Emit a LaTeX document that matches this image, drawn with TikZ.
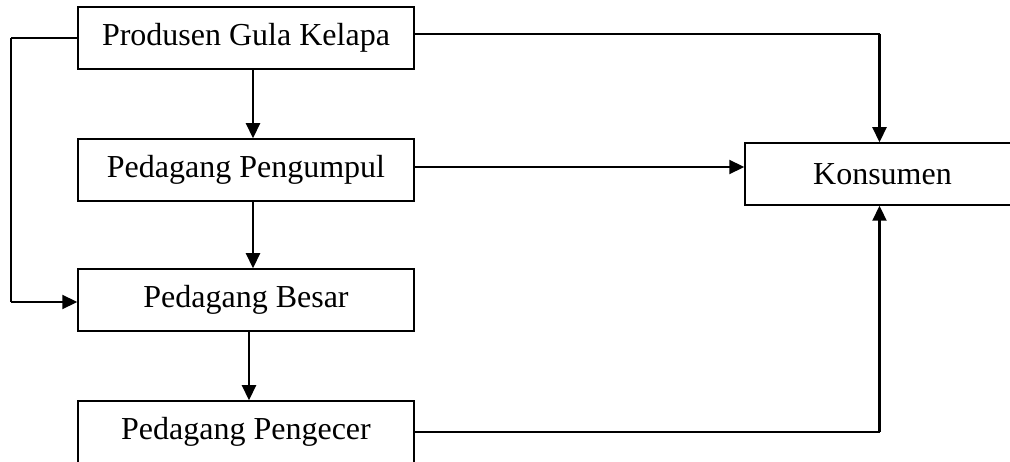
\documentclass[tikz,border=0pt]{standalone}
\usepackage{fontspec}
\setmainfont{Liberation Serif}
\usetikzlibrary{arrows.meta,calc}
\begin{document}
\begin{tikzpicture}[x=1pt,y=-1pt,
  box/.style={draw,rectangle,line width=1.5pt,minimum width=336pt,minimum height=62pt,inner sep=0pt,
    font=\fontsize{32}{38}\selectfont},
  thinline/.style={line width=1.2pt},
  arr/.style={line width=2.2pt,-{Triangle[length=15pt,width=14pt]}},
  link/.style={line width=2pt}]
\clip (0,0) rectangle (1010,462);
\fill[white] (0,0) rectangle (1010,462);

% supply chain stages
\node[box] (prod) at (246,38) {Produsen Gula Kelapa};
\node[box] (pu) at (246,170) {Pedagang Pengumpul};
\node[box] (pb) at (246,300) {Pedagang Besar};
\node[box] (pe) at (246,432) {Pedagang Pengecer};
\node[box,minimum width=275pt] (kons) at (882.5,174) {Konsumen};

% main vertical flow
\draw[arr] ([xshift=7pt]prod.south) -- ([xshift=7pt]pu.north);
\draw[arr] ([xshift=7pt]pu.south) -- ([xshift=7pt]pb.north);
\draw[arr] ([xshift=3pt]pb.south) -- ([xshift=3pt]pe.north);

% collector straight to consumer
\draw[arr] ([yshift=3pt]pu.east) -- ([yshift=3pt]pu.east -| kons.west);

% producer straight to consumer
\coordinate (tr) at ($([xshift=-3pt]kons.north |- 0,34)$);
\draw[thinline] ([yshift=4pt]prod.east) -- (tr);
\draw[arr] (tr) -- ([xshift=-3pt]kons.north);

% retailer to consumer
\coordinate (br) at ($([xshift=-3pt]kons.south |- pe.east)$);
\draw[thinline] (pe.east) -- (br);
\draw[arr] (br) -- ([xshift=-3pt]kons.south);

% producer straight to wholesaler
\coordinate (tl) at (11,38);
\coordinate (bl) at (11,302);
\draw[thinline] (prod.west) -- (tl);
\draw[link] (tl) -- (bl);
\draw[arr] (bl) -- ([yshift=-2pt]pb.west);
\end{tikzpicture}
\end{document}
